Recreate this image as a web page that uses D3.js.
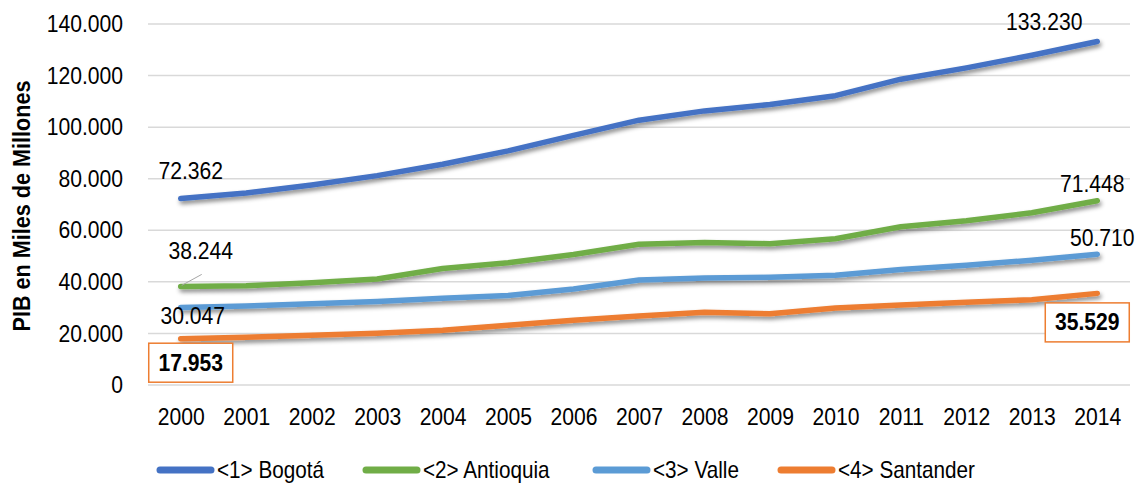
<!DOCTYPE html>
<html><head><meta charset="utf-8">
<script src="https://cdn.jsdelivr.net/npm/d3@7"></script>
<style>
html,body{margin:0;padding:0;background:#fff;}
svg text{font-family:"Liberation Sans Narrow","Arial Narrow","Liberation Sans",Arial,sans-serif;fill:#000;}
</style></head>
<body><svg id="chart" width="1138" height="483"></svg>
<script>
const years = ["2000","2001","2002","2003","2004","2005","2006","2007","2008","2009","2010","2011","2012","2013","2014"];
const bogota    = [72362,74500,77600,81200,85600,90800,96800,102700,106300,108800,112200,118600,123000,127900,133230];
const antioquia = [38244,38500,39700,41100,45200,47400,50600,54600,55300,54800,56700,61400,63700,66800,71448];
const valle     = [30047,30600,31500,32400,33600,34700,37200,40700,41500,41800,42600,44800,46400,48400,50710];
const santander = [17953,18500,19300,20100,21200,23200,25100,26800,28200,27600,29900,31000,32100,33100,35529];
const seriesNames = ["<1> Bogotá","<2> Antioquia","<3> Valle","<4> Santander"];
const seriesColors = ["#4472C4","#70AD47","#5B9BD5","#ED7D31"];
const yTicks = [0,20000,40000,60000,80000,100000,120000,140000];
const yTitle = "PIB en Miles de Millones";

const SX = 0.88; // horizontal condensing to mimic a narrow typeface
const series = [bogota, antioquia, valle, santander].map((v,i)=>({name:seriesNames[i],color:seriesColors[i],values:v}));
const loc = d3.formatLocale({decimal:",",thousands:".",grouping:[3],currency:["",""]});
const fmt = loc.format(",d");

const svg = d3.select("#chart");
const defs = svg.append("defs");
const f = defs.append("filter").attr("id","sh").attr("x","-10%").attr("y","-50%").attr("width","120%").attr("height","200%");
f.append("feDropShadow").attr("dx",1.5).attr("dy",3).attr("stdDeviation",2).attr("flood-color","#000").attr("flood-opacity",0.45);

const x = d3.scalePoint().domain(years).range([148,1130]).padding(0.5);
const y = d3.scaleLinear().domain([0,140000]).range([385,24]);

function ctext(sel, t, px, py, anchor, opts={}){
  const g = sel.append("g").attr("transform",`translate(${px},${py}) scale(${opts.sx||SX},1)`);
  const tx = g.append("text").attr("x",0).attr("y",0).attr("text-anchor",anchor)
    .attr("dominant-baseline","central").attr("font-size",opts.size||24).text(t);
  if(opts.bold) tx.attr("font-weight","bold");
  return tx;
}

// gridlines
svg.append("g").selectAll("line").data(yTicks).join("line")
  .attr("x1",148).attr("x2",1130).attr("y1",d=>y(d)).attr("y2",d=>y(d))
  .attr("stroke","#d9d9d9").attr("stroke-width",1.5);

// y axis labels
const yAxis = svg.append("g").attr("transform","translate(130,0)")
  .call(d3.axisLeft(y).tickValues(yTicks).tickFormat(fmt).tickSize(0).tickPadding(7));
yAxis.select(".domain").remove();
yAxis.selectAll(".tick").each(function(){
  const t = d3.select(this).select("text");
  t.attr("font-size",24).attr("font-family",null).attr("transform",`translate(-7,0) scale(${SX},1)`).attr("x",0);
});

// x axis labels
const xAxis = svg.append("g").attr("transform","translate(0,385)")
  .call(d3.axisBottom(x).tickSize(0).tickPadding(23));
xAxis.select(".domain").remove();
xAxis.selectAll("text").attr("font-size",24).attr("font-family",null).attr("transform",`scale(${SX},1)`);

// y title
svg.append("g").attr("transform","translate(22,206) rotate(-90) scale(0.9,1)")
  .append("text").attr("text-anchor","middle").attr("dominant-baseline","central")
  .attr("font-size",24).attr("font-weight","bold").text(yTitle);

// lines
const line = d3.line().x((d,i)=>x(years[i])).y(d=>y(d)).curve(d3.curveLinear);
svg.append("g").selectAll("path").data(series).join("path")
  .attr("d",d=>line(d.values)).attr("fill","none").attr("stroke",d=>d.color)
  .attr("stroke-width",5.5).attr("stroke-linecap","round").attr("stroke-linejoin","round")
  .attr("filter","url(#sh)");

// data labels
const first = years[0], last = years[years.length-1];
const L = svg.append("g");
ctext(L, fmt(bogota[0]), x(first)+10, y(bogota[0])-27, "middle");
ctext(L, fmt(bogota[14]), x(last)-53, y(bogota[14])-19, "middle");
ctext(L, fmt(antioquia[0]), x(first)+20, y(antioquia[0])-35, "middle");
L.append("line").attr("x1",x(first)+1).attr("y1",y(antioquia[0])-1).attr("x2",x(first)+21).attr("y2",y(antioquia[0])-12)
  .attr("stroke","#a6a6a6").attr("stroke-width",1);
ctext(L, fmt(valle[0]), x(first)+12, y(valle[0])+9, "middle");
ctext(L, fmt(antioquia[14]), x(last)-5, y(antioquia[14])-17, "middle");
ctext(L, fmt(valle[14]), x(last)+5, y(valle[14])-16, "middle");
const box = (t,cx,cy)=>{
  L.append("rect").attr("x",cx-42).attr("y",cy-19.5).attr("width",84).attr("height",39)
    .attr("fill","#fff").attr("stroke","#ED7D31").attr("stroke-width",1.5);
  ctext(L, t, cx, cy, "middle", {bold:true});
};
box(fmt(santander[0]), x(first)+10, y(santander[0])+24);
box(fmt(santander[14]), x(last)-10, y(santander[14])+29);

// legend
const lg = svg.append("g").attr("transform","translate(0,470)");
const lx = [157,363,593,778];
series.forEach((s,i)=>{
  lg.append("line").attr("x1",lx[i]+3).attr("x2",lx[i]+54).attr("y1",0).attr("y2",0)
    .attr("stroke",s.color).attr("stroke-width",7).attr("stroke-linecap","round");
  ctext(lg, s.name, lx[i]+60, 0, "start", {size:23, sx:0.9});
});
</script></body></html>
